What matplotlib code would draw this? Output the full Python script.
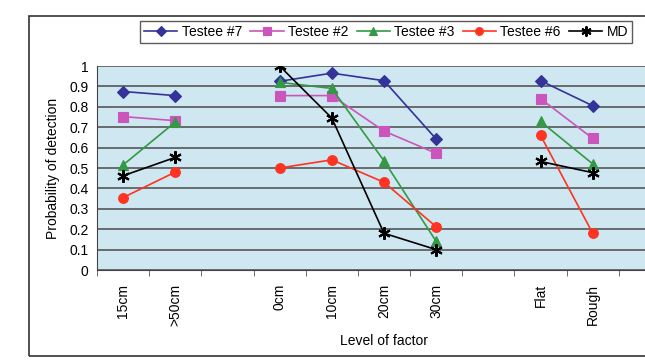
import numpy as np
import matplotlib.pyplot as plt
from matplotlib.patches import Rectangle

plt.rcParams['font.family'] = ['Liberation Sans', 'DejaVu Sans']

# factor levels, blanks separate the three factor groups
levels = ['15cm', '>50cm', '', '0cm', '10cm', '20cm', '30cm', '', 'Flat', 'Rough', '']

nan = np.nan
testee7 = [0.875, 0.855, nan, 0.925, 0.965, 0.928, 0.642, nan, 0.928, 0.805, nan]
testee2 = [0.752, 0.732, nan, 0.855, 0.855, 0.681, 0.572, nan, 0.840, 0.645, nan]
testee3 = [0.515, 0.725, nan, 0.920, 0.890, 0.535, 0.140, nan, 0.728, 0.520, nan]
testee6 = [0.355, 0.480, nan, 0.500, 0.540, 0.430, 0.212, nan, 0.660, 0.180, nan]
md = [0.462, 0.552, nan, 1.000, 0.745, 0.180, 0.100, nan, 0.532, 0.477, nan]

series = [
    ('Testee #7', testee7, '#333399', 'D', 6),
    ('Testee #2', testee2, '#cc55bb', 's', 7),
    ('Testee #3', testee3, '#339944', '^', 7),
    ('Testee #6', testee6, '#ff3322', 'o', 7),
    ('MD', md, 'black', (6, 2, 0), 9),
]

fig = plt.figure(figsize=(6.45, 3.6), dpi=100)

# outer chart frame
fig.patches.append(Rectangle((29 / 645, 4 / 360), 1.0, 340 / 360, transform=fig.transFigure,
                             fill=False, edgecolor='#333333', linewidth=1.2))

ax = fig.add_axes([97 / 645, 90 / 360, 574 / 645, 204 / 360])
ax.set_facecolor('#cfe7f0')

x = np.arange(len(levels))
for name, vals, col, mk, ms in series:
    ax.plot(x, vals, color=col, marker=mk, markersize=ms, linewidth=1.2,
            markeredgewidth=1.5 if name == 'MD' else 0.8, label=name)

ax.set_xlim(-0.5, len(levels) - 0.5)
ax.set_ylim(0, 1)
ax.set_yticks(np.arange(0, 1.01, 0.1))
ax.set_yticklabels(['0', '0.1', '0.2', '0.3', '0.4', '0.5', '0.6', '0.7', '0.8', '0.9', '1'])
ax.yaxis.grid(True, color='#4a4a4a', linewidth=1.1)
ax.set_axisbelow(True)

ax.set_xticks(x)
ax.set_xticklabels(levels, rotation=90)
ax.set_xticks(np.arange(-0.5, len(levels), 1), minor=True)
ax.tick_params(axis='x', which='major', length=0, pad=10, labelsize=10)
ax.tick_params(axis='x', which='minor', length=4, color='#555555')
ax.tick_params(axis='y', length=0, labelsize=10, pad=6)

for side in ['top', 'right']:
    ax.spines[side].set_visible(False)
ax.spines['left'].set_color('#444444')
ax.spines['bottom'].set_color('#444444')

ax.set_ylabel('Probability of detection', fontsize=10, labelpad=7)
ax.set_xlabel('Level of factor', fontsize=10, labelpad=6)

leg = fig.legend(loc='center', bbox_to_anchor=(386 / 645, 1 - 32 / 360), ncol=5,
                 fontsize=10, frameon=True, fancybox=False, edgecolor='#333333',
                 handlelength=2.4, handletextpad=0.3, columnspacing=0.6,
                 borderpad=0.3, markerscale=0.8)
leg.get_frame().set_linewidth(1.0)

fig.savefig('out.png', dpi=100)
